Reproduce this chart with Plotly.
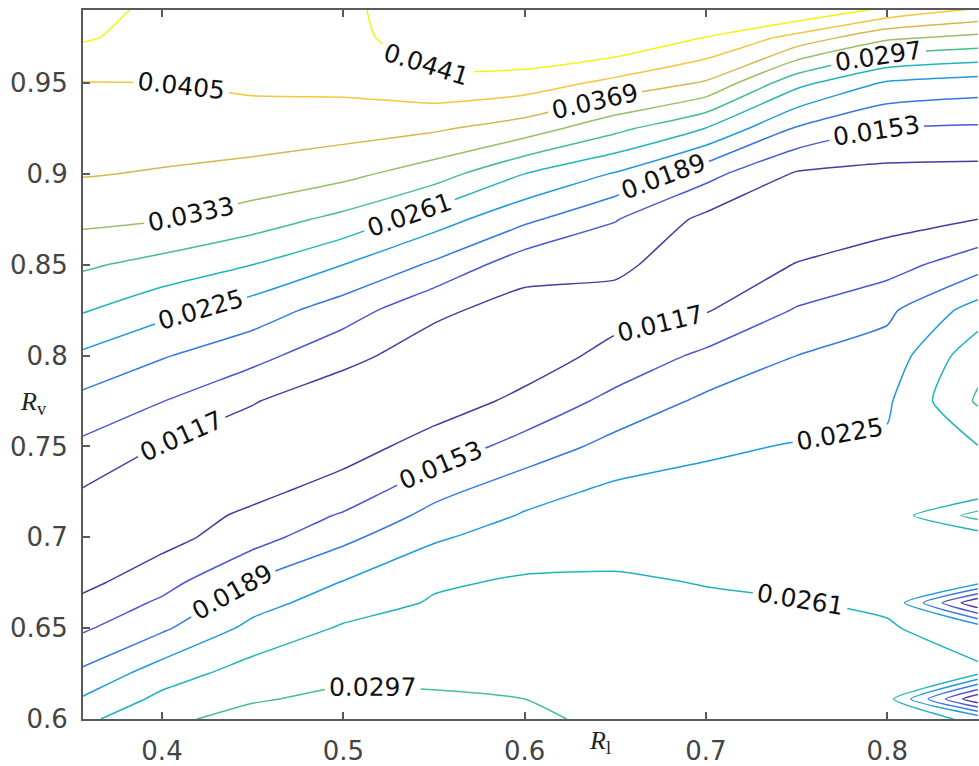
import plotly.graph_objects as go

# ---- data ----
r_l = [0.35, 0.40, 0.45, 0.50, 0.55, 0.60, 0.65, 0.70, 0.75, 0.80, 0.85]
r_v = [0.600, 0.611, 0.625, 0.650, 0.664, 0.675, 0.700, 0.712, 0.725, 0.750,
       0.775, 0.800, 0.825, 0.850, 0.875, 0.900, 0.925, 0.950, 0.975, 1.000]

# one row per r_v value, one column per r_l value
z_grid = [
    [0.0247, 0.0290, 0.0308, 0.0315, 0.0310, 0.0303, 0.0290, 0.0285, 0.0280, 0.0277, 0.0255],
    [0.0222, 0.0270, 0.0294, 0.0304, 0.0301, 0.0297, 0.0287, 0.0281, 0.0277, 0.0274, 0.0085],
    [0.0191, 0.0244, 0.0277, 0.0290, 0.0290, 0.0290, 0.0282, 0.0277, 0.0274, 0.0270, 0.0265],
    [0.0143, 0.0183, 0.0235, 0.0265, 0.0274, 0.0278, 0.0274, 0.0270, 0.0267, 0.0263, 0.0250],
    [0.0121, 0.0159, 0.0211, 0.0244, 0.0264, 0.0271, 0.0269, 0.0265, 0.0262, 0.0258, 0.0085],
    [0.0103, 0.0140, 0.0193, 0.0227, 0.0257, 0.0265, 0.0265, 0.0260, 0.0257, 0.0254, 0.0235],
    [0.0097, 0.0104, 0.0138, 0.0180, 0.0220, 0.0243, 0.0249, 0.0248, 0.0247, 0.0245, 0.0240],
    [0.0107, 0.0099, 0.0124, 0.0157, 0.0200, 0.0228, 0.0241, 0.0242, 0.0242, 0.0241, 0.0310],
    [0.0118, 0.0095, 0.0108, 0.0132, 0.0179, 0.0212, 0.0233, 0.0235, 0.0237, 0.0237, 0.0240],
    [0.0149, 0.0115, 0.0098, 0.0102, 0.0131, 0.0167, 0.0201, 0.0220, 0.0227, 0.0230, 0.0260],
    [0.0183, 0.0154, 0.0119, 0.0096, 0.0100, 0.0125, 0.0164, 0.0196, 0.0209, 0.0220, 0.0302],
    [0.0223, 0.0192, 0.0165, 0.0127, 0.0100, 0.0100, 0.0127, 0.0161, 0.0189, 0.0203, 0.0285],
    [0.0268, 0.0236, 0.0208, 0.0171, 0.0124, 0.0103, 0.0105, 0.0114, 0.0156, 0.0182, 0.0240],
    [0.0305, 0.0285, 0.0261, 0.0225, 0.0183, 0.0131, 0.0123, 0.0100, 0.0118, 0.0138, 0.0175],
    [0.0342, 0.0335, 0.0315, 0.0287, 0.0242, 0.0197, 0.0155, 0.0108, 0.0100, 0.0103, 0.0117],
    [0.0372, 0.0366, 0.0358, 0.0343, 0.0314, 0.0261, 0.0222, 0.0165, 0.0113, 0.0106, 0.0105],
    [0.0388, 0.0387, 0.0387, 0.0383, 0.0374, 0.0352, 0.0307, 0.0260, 0.0185, 0.0152, 0.0148],
    [0.0404, 0.0405, 0.0412, 0.0415, 0.0430, 0.0424, 0.0395, 0.0365, 0.0272, 0.0220, 0.0208],
    [0.0447, 0.0428, 0.0425, 0.0425, 0.0470, 0.0480, 0.0475, 0.0440, 0.0393, 0.0340, 0.0324],
    [0.0460, 0.0437, 0.0432, 0.0430, 0.0480, 0.0490, 0.0500, 0.0500, 0.0526, 0.0490, 0.0450],
]

level_start = 0.0117
level_end = 0.0441
level_step = 0.0036

x_ticks = [0.4, 0.5, 0.6, 0.7, 0.8]
x_tick_labels = ["0.4", "0.5", "0.6", "0.7", "0.8"]
y_ticks = [0.6, 0.65, 0.7, 0.75, 0.8, 0.85, 0.9, 0.95]
y_tick_labels = ["0.6", "0.65", "0.7", "0.75", "0.8", "0.85", "0.9", "0.95"]

# ---- style ----
line_scale = [
    [0.000, "#4a3aa2"], [0.111, "#4a58d2"], [0.222, "#3478e2"],
    [0.333, "#1f9bdb"], [0.444, "#22b4bb"], [0.556, "#46bc98"],
    [0.667, "#98bf68"], [0.778, "#d6b84c"], [0.889, "#f2c83a"],
    [1.000, "#f4f214"],
]
axis_col = "#5a5a5a"
tick_font = dict(family="DejaVu Sans", size=26, color="#444444")

fig = go.Figure()
fig.add_trace(go.Contour(
    x=r_l, y=r_v, z=z_grid,
    colorscale=line_scale, zmin=level_start, zmax=level_end,
    autocontour=False,
    contours=dict(start=level_start, end=level_end + 1e-6, size=level_step,
                  coloring="lines", showlabels=True, labelformat=".4f",
                  labelfont=dict(family="DejaVu Sans", size=25, color="#111111")),
    line=dict(width=1.5, smoothing=0.5),
    showscale=False, hoverinfo="skip",
))

fig.update_layout(
    width=979, height=766,
    margin=dict(l=83, r=0, t=10, b=45),
    plot_bgcolor="white", paper_bgcolor="white",
    showlegend=False, hovermode=False,
    xaxis=dict(range=[0.35643, 0.8506], tickvals=x_ticks, ticktext=x_tick_labels,
               ticks="inside", ticklen=7, tickwidth=1.5, tickcolor=axis_col,
               showline=True, linecolor=axis_col, linewidth=2, mirror="ticks",
               showgrid=False, zeroline=False, tickfont=tick_font,
               ticklabelstandoff=8),
    yaxis=dict(range=[0.6, 0.9902], tickvals=y_ticks, ticktext=y_tick_labels,
               ticks="inside", ticklen=7, tickwidth=1.5, tickcolor=axis_col,
               showline=True, linecolor=axis_col, linewidth=2, mirror=False,
               showgrid=False, zeroline=False, tickfont=tick_font,
               ticklabelstandoff=8),
    annotations=[
        dict(text="<i>R</i><sub>l</sub>", xref="paper", yref="paper",
             x=0.577, y=-0.033, xanchor="center", yanchor="middle", showarrow=False,
             font=dict(family="Liberation Serif", size=26, color="#222222")),
        dict(text="<i>R</i><sub>v</sub>", xref="paper", yref="paper",
             x=-0.055, y=0.445, xanchor="center", yanchor="middle", showarrow=False,
             font=dict(family="Liberation Serif", size=26, color="#222222")),
    ],
)

fig.write_html("out.html", config={"displayModeBar": False},
               post_script="document.body.style.margin='0px';")
